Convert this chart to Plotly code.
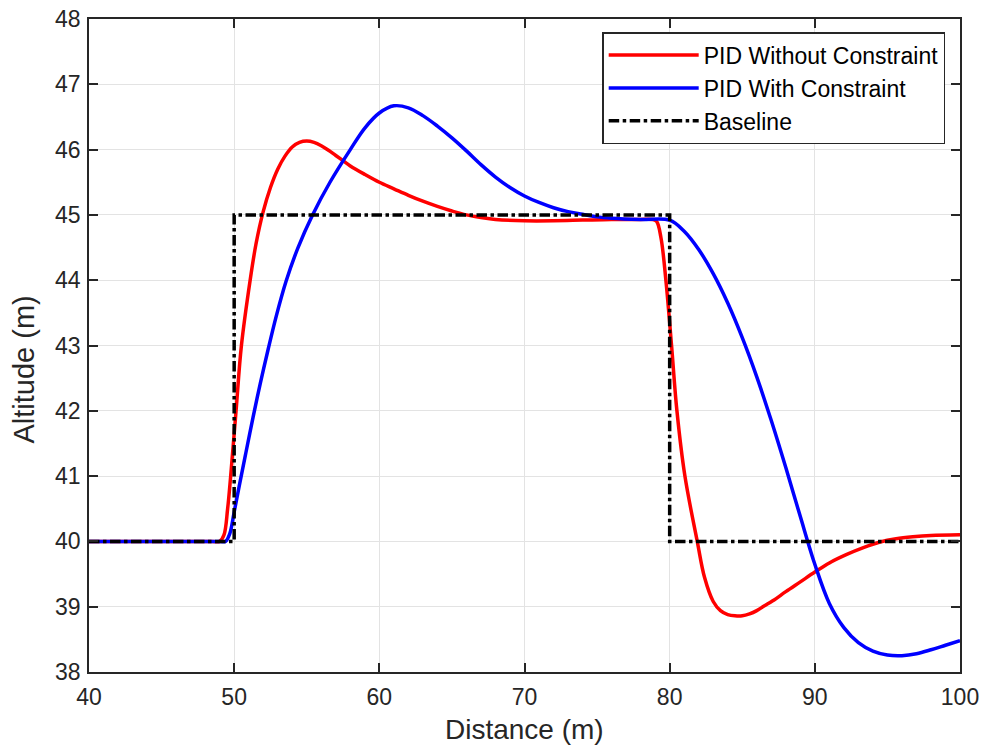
import plotly.graph_objects as go

# ---- data ----
red_x = [40, 48.5, 49.0, 49.3, 49.55, 49.76, 50.13, 50.5, 51.1, 51.5, 52.0, 52.5, 53.0, 53.5, 54.0, 54.5,
         55.0, 55.5, 56.0, 56.5, 57.0, 57.5, 58.0, 59.0, 60.0, 61.0, 62.0, 63.0, 64.0, 65.0, 66.0, 67.0,
         68.0, 70.0, 72.0, 74.0, 76.0, 78.0, 78.8, 79.1, 79.4, 79.74, 80.13, 80.5, 81.05, 81.9, 82.4,
         83.0, 83.5, 84.0, 84.5, 85.0, 85.5, 86.0, 86.5, 87.1, 88.0, 89.0, 90.0, 91.0, 92.2, 93.3,
         94.5, 95.6, 96.75, 98.0, 100]
red_y = [40, 40, 40.0, 40.1, 40.5, 41.0, 42.0, 43.0, 44.0, 44.55, 45.05, 45.42, 45.7, 45.9, 46.04, 46.11,
         46.13, 46.11, 46.06, 45.99, 45.91, 45.83, 45.75, 45.62, 45.5, 45.4, 45.3, 45.21, 45.13, 45.06,
         45.0, 44.96, 44.93, 44.91, 44.91, 44.92, 44.93, 44.93, 44.93, 44.9, 44.65, 44.0, 43.0, 42.0,
         41.0, 40.0, 39.45, 39.08, 38.94, 38.88, 38.86, 38.86, 38.89, 38.94, 39.01, 39.09, 39.23, 39.38,
         39.53, 39.67, 39.8, 39.9, 39.99, 40.04, 40.07, 40.09, 40.1]

blue_x = [40, 49.0, 49.4, 49.7, 50.0, 50.35, 50.8, 51.3, 51.8, 52.35, 52.9, 53.57, 54.4, 55.4, 56.6,
          58.0, 59.0, 60.0, 61.0, 62.0, 63.0, 64.0, 65.0, 66.0, 67.0, 68.0, 69.0, 70.0, 71.0, 72.0,
          73.0, 74.0, 75.0, 76.0, 78.0, 80.0, 81.0, 82.0, 83.0, 84.0, 85.0, 86.0, 87.0, 88.0, 89.0,
          90.0, 91.0, 92.0, 93.0, 94.0, 95.0, 96.0, 97.0, 98.0, 99.0, 100]
blue_y = [40, 40.0, 40.0, 40.12, 40.45, 40.85, 41.35, 41.9, 42.42, 42.95, 43.45, 43.98, 44.5, 45.0, 45.5,
          46.0, 46.33, 46.56, 46.67, 46.64, 46.52, 46.36, 46.18, 45.98, 45.77, 45.58, 45.42, 45.29, 45.19,
          45.11, 45.05, 45.01, 44.97, 44.95, 44.93, 44.92, 44.75, 44.47, 44.1, 43.65, 43.12, 42.52, 41.85,
          41.13, 40.38, 39.65, 39.05, 38.68, 38.45, 38.32, 38.26, 38.25, 38.28, 38.34, 38.41, 38.48]

base_x = [40, 50, 50, 80, 80, 100]
base_y = [40, 40, 45, 45, 40, 40]

x_ticks = [40, 50, 60, 70, 80, 90, 100]
y_ticks = [38, 39, 40, 41, 42, 43, 44, 45, 46, 47, 48]

x_title = "Distance (m)"
y_title = "Altitude (m)"

FONT = "Liberation Sans, Arial, sans-serif"
INK = "#262626"

fig = go.Figure()
fig.add_trace(go.Scatter(x=red_x, y=red_y, mode="lines", name="PID Without Constraint",
                         line=dict(color="#ff0000", width=3.5, shape="spline", smoothing=1.0)))
fig.add_trace(go.Scatter(x=blue_x, y=blue_y, mode="lines", name="PID With Constraint",
                         line=dict(color="#0000ff", width=3.5, shape="spline", smoothing=1.0)))
fig.add_trace(go.Scatter(x=base_x, y=base_y, mode="lines", name="Baseline",
                         line=dict(color="#000000", width=3.5, dash="dashdot")))

axis_common = dict(
    showgrid=True, gridcolor="#e3e3e3", gridwidth=1,
    showline=True, linecolor=INK, linewidth=1.5, mirror="ticks",
    ticks="inside", ticklen=9, tickwidth=1.5, tickcolor=INK,
    zeroline=False, automargin=False,
    tickfont=dict(family=FONT, size=23, color=INK),
)

fig.update_layout(
    width=984, height=747,
    margin=dict(l=89, r=24, t=19, b=75),
    paper_bgcolor="white", plot_bgcolor="white",
    font=dict(family=FONT, color=INK),
    xaxis=dict(range=[40, 100], tickvals=x_ticks, ticklabelstandoff=4, **axis_common),
    yaxis=dict(range=[38, 48], tickvals=y_ticks, ticklabelstandoff=2, **axis_common),
    legend=dict(x=0.983, y=0.98, xanchor="right", yanchor="top",
                bgcolor="white", bordercolor=INK, borderwidth=1.5,
                font=dict(family=FONT, size=23, color="#000000"),
                itemwidth=90, tracegroupgap=0),
    showlegend=True,
    annotations=[
        dict(text=x_title, xref="paper", yref="paper", x=0.5, y=-0.088, xanchor="center", yanchor="middle",
             showarrow=False, font=dict(family=FONT, size=28, color=INK)),
        dict(text=y_title, xref="paper", yref="paper", x=-0.0752, y=0.4625, xanchor="center", yanchor="middle",
             textangle=-90, showarrow=False, font=dict(family=FONT, size=29, color=INK)),
    ],
)

fig.write_html("out.html")
